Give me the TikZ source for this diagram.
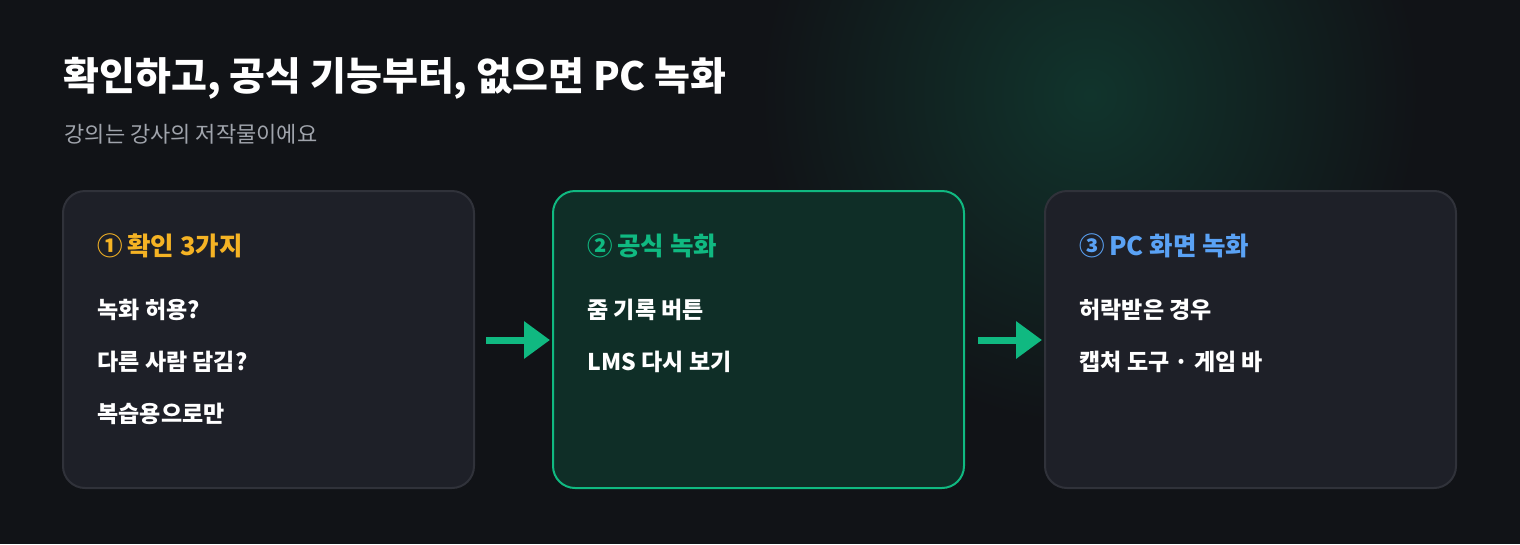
\documentclass[tikz,border=0pt]{standalone}
\usepackage{fontspec}
\setmainfont{Noto Sans CJK KR}
\usetikzlibrary{positioning, arrows.meta}
\definecolor{bgdark}{HTML}{111317}
\definecolor{cardfill}{HTML}{1E2028}
\definecolor{cardline}{HTML}{30323A}
\definecolor{greenfill}{HTML}{0F2E27}
\definecolor{accgreen}{HTML}{10B981}
\definecolor{accorange}{HTML}{F5B324}
\definecolor{accblue}{HTML}{5AA2F5}
\definecolor{subgrey}{HTML}{A0A4AC}
\tikzset{
    card/.style={draw=cardline, line width=2pt, fill=cardfill, rounded corners=22pt},
    head/.style={anchor=west, font=\fontsize{25.5}{30}\selectfont\bfseries},
    item/.style={anchor=west, text=white, font=\fontsize{23}{27}\selectfont\bfseries},
    flow/.style={-{Triangle[length=26pt,width=36pt]}, accgreen, line width=7pt},
}
\begin{document}
\begin{tikzpicture}[x=1pt, y=-1pt]
        \fill[bgdark] (0,0) rectangle (1520,544);
        \useasboundingbox (0,0) rectangle (1520,544);
        \shade[inner color=accgreen!20!bgdark, outer color=bgdark, draw=none] (1090,95) circle (330);

        \node[anchor=west, text=white, font=\fontsize{39}{44}\selectfont\bfseries] (title) at (60,78) {확인하고, 공식 기능부터, 없으면 PC 녹화};
        \node[anchor=west, text=subgrey, font=\fontsize{22}{26}\selectfont] (subtitle) at (61,134) {강의는 강사의 저작물이에요};

        % cards
        \draw[card] (63,191) rectangle (474,488);
        \draw[card, draw=accgreen, fill=greenfill] (553,191) rectangle (964,488);
        \draw[card] (1045,191) rectangle (1456,488);
        \coordinate (c1e) at (474,340);
        \coordinate (c2w) at (553,340);
        \coordinate (c2e) at (964,340);
        \coordinate (c3w) at (1045,340);

        \node[head, text=accorange] (h1) at (94,246) {①\,확인 3가지};
        \node[item] (a1) at (94,310) {녹화 허용?};
        \node[item] (a2) at (94,362) {다른 사람 담김?};
        \node[item] (a3) at (94,414) {복습용으로만};

        \node[head, text=accgreen] (h2) at (584,246) {②\,공식 녹화};
        \node[item] (b1) at (584,310) {줌 기록 버튼};
        \node[item] (b2) at (584,362) {LMS 다시 보기};

        \node[head, text=accblue] (h3) at (1076,246) {③\,PC 화면 녹화};
        \node[item] (d1) at (1076,310) {허락받은 경우};
        \node[item] (d2) at (1076,362) {캡처 도구 · 게임 바};

        \draw[flow] ([xshift=12pt]c1e) -- ([xshift=-3pt]c2w);
        \draw[flow] ([xshift=14pt]c2e) -- ([xshift=-3pt]c3w);
\end{tikzpicture}
\end{document}
